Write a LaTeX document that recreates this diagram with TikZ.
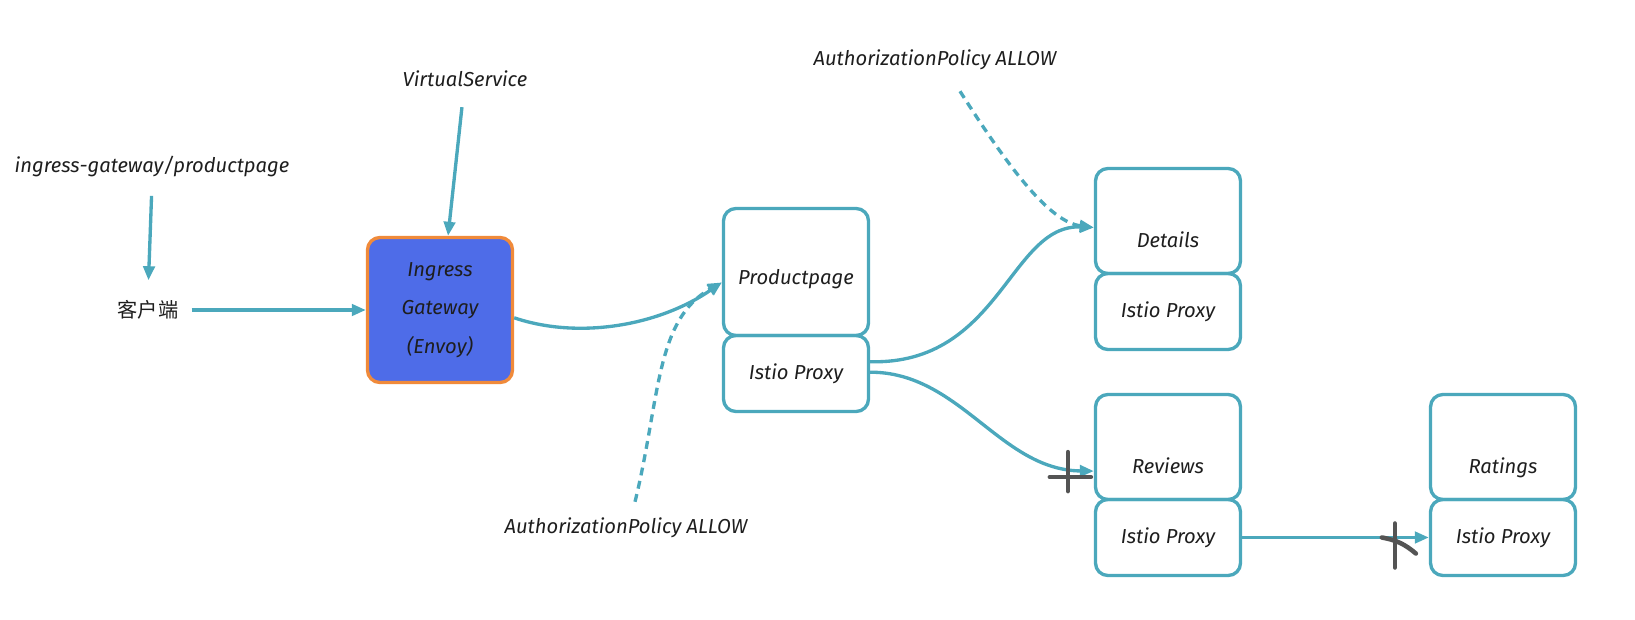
\documentclass[tikz,border=0pt]{standalone}
\usepackage{fontspec}
\setmainfont{Fira Sans}
\newfontfamily\cjk{Noto Sans CJK SC}
\usepackage{tikz}
\usetikzlibrary{positioning}
\usetikzlibrary{arrows.meta}
\definecolor{tealish}{RGB}{75,168,188}
\definecolor{gwblue}{RGB}{78,108,232}
\definecolor{gworange}{RGB}{240,138,58}
\definecolor{ink}{RGB}{30,30,30}
\definecolor{gray}{rgb}{0.33,0.33,0.33}

\begin{document}
\begin{tikzpicture}[x=0.02cm, y=-0.02cm,
    every node/.style = {font=\fontsize{11.5}{13}\selectfont\itshape, text=ink},
    svc/.style = {draw=tealish, line width=1.9pt, rounded corners=7pt, minimum width=2.9cm, minimum height=2.1cm, text height=1.05cm, text depth=0pt},
    proxy/.style = {draw=tealish, line width=1.9pt, rounded corners=7pt, minimum width=2.9cm, minimum height=1.52cm},
    flow/.style = {draw=tealish, line width=1.9pt, -{Triangle[length=8pt,width=6.5pt]}},
    policy/.style = {flow, dash pattern=on 4.5pt off 3.2pt},
    cut/.style = {draw=gray, line width=2.6pt, line cap=round}
  ]
    \useasboundingbox (0,0) rectangle (1635,619);
    \node (ig) at (152,167) {ingress-gateway/productpage};
    \node (cl) at (148,310) {\cjk\upshape 客户端};
    \node (vs) at (465,79) {VirtualService};
    \node[draw=gworange, fill=gwblue, line width=1.9pt, rounded corners=7pt, minimum width=2.9cm, minimum height=2.9cm, align=center, font=\fontsize{11.5}{22}\selectfont\itshape] (gw) at (440,310) {Ingress\\Gateway\\(Envoy)};
    \node[svc, minimum height=2.54cm, text height=0.5cm] (pp) at (796,272) {Productpage};
    \node[proxy] (ppx) [below=-1.9pt of pp] {Istio Proxy};
    \node (app) at (626,528) {AuthorizationPolicy ALLOW};
    \node (apd) at (935,60) {AuthorizationPolicy ALLOW};
    \node[svc] (dt) at (1168,221) {Details};
    \node[proxy] (dtx) [below=-1.9pt of dt] {Istio Proxy};
    \node[svc] (rv) at (1168,447) {Reviews};
    \node[proxy] (rvx) [below=-1.9pt of rv] {Istio Proxy};
    \node[svc] (rt) at (1503,447) {Ratings};
    \node[proxy] (rtx) [below=-1.9pt of rt] {Istio Proxy};
    \draw[flow, shorten <=7pt, shorten >=8pt] (ig.south) -- (cl.north);
    \draw[flow, shorten <=4pt] (cl) -- (gw);
    \draw[flow, shorten <=8pt] (vs) -- (gw);
    \draw[flow] (gw.-6) .. controls (580,340) and (660,325) .. (pp.188);
    \draw[policy] ([xshift=0.18cm,yshift=0.2cm]app.north) .. controls (660,400) and (655,320) .. (pp.188);
    \draw[policy] ([xshift=0.5cm,yshift=-0.3cm]apd.south) .. controls (1010,170) and (1050,222) .. (dt.185);
    \draw[flow] (ppx.9) .. controls (1000,365) and (1010,224) .. (dt.185);
    \draw[flow] (ppx.1) .. controls (960,372) and (1000,470) .. (rv.198);
    \draw[flow] (rvx) -- (rtx);
    % blocked calls
    \draw[cut] (rv.198) ++(-26,-19) -- ++(0,39);
    \draw[cut] (rv.198) ++(-44,6) -- ++(41,0);
    \draw[cut] (rtx.west) ++(-34,-14) -- ++(0,44);
    \draw[cut] (rtx.west) ++(-47,0) to[bend left=15] ++(34,16);
\end{tikzpicture}
\end{document}
